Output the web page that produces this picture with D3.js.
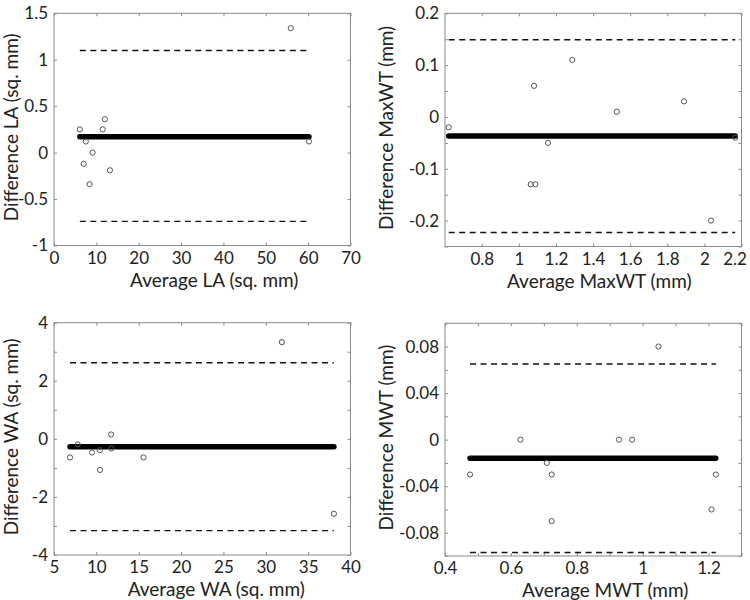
<!DOCTYPE html>
<html><head><meta charset="utf-8">
<script src="https://cdn.jsdelivr.net/npm/d3@7"></script>
<style>body{margin:0;background:#fff}</style>
</head><body><svg id="c" width="750" height="600"></svg>
<script>
// ---- Data ----
const laAvg   = [6.1, 7.5, 9.1, 7.0, 8.4, 11.5, 12.0, 13.2, 55.9, 60.2];
const laDiff  = [0.25, 0.12, 0.0, -0.12, -0.34, 0.25, 0.36, -0.19, 1.34, 0.12];
const laBias  = 0.17;
const laLoA   = [-0.74, 1.10];

const maxwtAvg  = [0.622, 1.082, 1.288, 1.528, 1.89, 1.157, 1.064, 1.089, 2.036, 2.166];
const maxwtDiff = [-0.02, 0.06, 0.11, 0.01, 0.03, -0.05, -0.13, -0.13, -0.20, -0.04];
const maxwtBias = -0.037;
const maxwtLoA  = [-0.223, 0.149];

const waAvg   = [6.89, 7.8, 9.49, 10.4, 10.43, 11.74, 11.78, 15.57, 31.9, 38.04];
const waDiff  = [-0.64, -0.19, -0.47, -0.39, -1.07, 0.15, -0.33, -0.64, 3.33, -2.58];
const waBias  = -0.27;
const waLoA   = [-3.16, 2.62];

const mwtAvg  = [0.476, 0.629, 0.709, 0.724, 0.724, 0.928, 0.968, 1.048, 1.209, 1.222];
const mwtDiff = [-0.03, 0.0, -0.02, -0.03, -0.07, 0.0, 0.0, 0.08, -0.06, -0.03];
const mwtBias = -0.016;
const mwtLoA  = [-0.097, 0.065];

// axis ranges, ticks and tick labels
const laXDomain = [0, 70],      laYDomain = [-1, 1.5];
const laXTicks  = [0,10,20,30,40,50,60,70];
const laXLabels = [0,10,20,30,40,50,60,70];
const laYTicks  = [-1,-0.5,0,0.5,1,1.5];
const laYLabels = [-1,-0.5,0,0.5,1,1.5];

const maxwtXDomain = [0.602, 2.2], maxwtYDomain = [-0.25, 0.2];
const maxwtXTicks  = [0.8,1,1.2,1.4,1.6,1.8,2,2.2];
const maxwtXLabels = [0.8,1,1.2,1.4,1.6,1.8,2,2.2];
const maxwtYTicks  = [-0.25,-0.2,-0.15,-0.1,-0.05,0,0.05,0.1,0.15,0.2];
const maxwtYLabels = [-0.2,-0.1,0,0.1,0.2];

const waXDomain = [5, 40], waYDomain = [-4, 4];
const waXTicks  = [5,10,15,20,25,30,35,40];
const waXLabels = [5,10,15,20,25,30,35,40];
const waYTicks  = [-4,-3,-2,-1,0,1,2,3,4];
const waYLabels = [-4,-2,0,2,4];

const mwtXDomain = [0.4, 1.3], mwtYDomain = [-0.1, 0.1];
const mwtXTicks  = [0.4,0.5,0.6,0.7,0.8,0.9,1,1.1,1.2,1.3];
const mwtXLabels = [0.4,0.6,0.8,1,1.2];
const mwtYTicks  = [-0.1,-0.08,-0.06,-0.04,-0.02,0,0.02,0.04,0.06,0.08,0.1];
const mwtYLabels = [-0.08,-0.04,0,0.04,0.08];

const xTitles = ["Average LA (sq. mm)", "Average MaxWT (mm)", "Average WA (sq. mm)", "Average MWT (mm)"];
const yTitles = ["Difference LA (sq. mm)", "Difference MaxWT (mm)", "Difference WA (sq. mm)", "Difference MWT (mm)"];

// ---- Layout ----
const boxes = [
  {x0:54,  y0:13.3,  x1:350.5, y1:245.5, tOff:12, yt:18},
  {x0:445, y0:13.3,  x1:741.5, y1:246.5, tOff:6,  yt:393},
  {x0:54,  y0:322.7, x1:350.5, y1:555,   tOff:14, yt:18},
  {x0:445, y0:323.3, x1:741.5, y1:556,   tOff:12, yt:393}
];

const panels = [
  {avg:laAvg, diff:laDiff, bias:laBias, loa:laLoA, xd:laXDomain, yd:laYDomain, xt:laXTicks, xl:laXLabels, yt:laYTicks, yl:laYLabels},
  {avg:maxwtAvg, diff:maxwtDiff, bias:maxwtBias, loa:maxwtLoA, xd:maxwtXDomain, yd:maxwtYDomain, xt:maxwtXTicks, xl:maxwtXLabels, yt:maxwtYTicks, yl:maxwtYLabels},
  {avg:waAvg, diff:waDiff, bias:waBias, loa:waLoA, xd:waXDomain, yd:waYDomain, xt:waXTicks, xl:waXLabels, yt:waYTicks, yl:waYLabels},
  {avg:mwtAvg, diff:mwtDiff, bias:mwtBias, loa:mwtLoA, xd:mwtXDomain, yd:mwtYDomain, xt:mwtXTicks, xl:mwtXLabels, yt:mwtYTicks, yl:mwtYLabels}
];

const FONT = "Lato, 'Open Sans', sans-serif";
const TXT = "#222", FRAME = "#8c8c8c";
const fmt = v => String(+v.toFixed(4));
const has = (arr, v) => arr.some(a => Math.abs(a - v) < 1e-9);

const svg = d3.select("#c");

panels.forEach((p, i) => {
  const b = boxes[i];
  const x = d3.scaleLinear().domain(p.xd).range([b.x0, b.x1]);
  const y = d3.scaleLinear().domain(p.yd).range([b.y1, b.y0]);
  const g = svg.append("g");

  // frame
  g.append("rect").attr("x", b.x0).attr("y", b.y0)
    .attr("width", b.x1 - b.x0).attr("height", b.y1 - b.y0)
    .attr("fill", "none").attr("stroke", FRAME).attr("stroke-width", 1);

  const style = sel => {
    sel.select(".domain").remove();
    sel.selectAll(".tick line").attr("stroke", FRAME);
    sel.selectAll("text").attr("fill", TXT);
    sel.attr("font-family", FONT).attr("font-size", 17);
  };

  const bx = g.append("g").attr("transform", `translate(0,${b.y1})`)
    .call(d3.axisBottom(x).tickValues(p.xt).tickSize(-3).tickPadding(6)
      .tickFormat(v => has(p.xl, v) ? fmt(v) : ""))
    .call(style);
  // keep the right-most label inside the picture
  if (b.x1 > 700) {
    bx.selectAll(".tick text").filter(v => Math.abs(x(v) - b.x1) < 1).attr("dx", -7);
  }
  g.append("g").attr("transform", `translate(0,${b.y0})`)
    .call(d3.axisTop(x).tickValues(p.xt).tickSize(-3).tickFormat(""))
    .call(style);
  g.append("g").attr("transform", `translate(${b.x0},0)`)
    .call(d3.axisLeft(y).tickValues(p.yt).tickSize(-3).tickPadding(6)
      .tickFormat(v => has(p.yl, v) ? fmt(v) : ""))
    .call(style);
  g.append("g").attr("transform", `translate(${b.x1},0)`)
    .call(d3.axisRight(y).tickValues(p.yt).tickSize(-3).tickFormat(""))
    .call(style);

  const [xmin, xmax] = d3.extent(p.avg);

  // limits of agreement (dashed)
  g.selectAll("line.loa").data(p.loa).join("line").attr("class", "loa")
    .attr("x1", x(xmin)).attr("x2", x(xmax))
    .attr("y1", d => y(d)).attr("y2", d => y(d))
    .attr("stroke", "#111").attr("stroke-width", 1.4).attr("stroke-dasharray", "6,4.5");

  // bias (thick)
  g.append("line")
    .attr("x1", x(xmin)).attr("x2", x(xmax))
    .attr("y1", y(p.bias)).attr("y2", y(p.bias))
    .attr("stroke", "#000").attr("stroke-width", 5.5).attr("stroke-linecap", "round");

  // points
  g.selectAll("circle").data(p.avg.map((a, k) => [a, p.diff[k]])).join("circle")
    .attr("cx", d => x(d[0])).attr("cy", d => y(d[1])).attr("r", 2.6)
    .attr("fill", "none").attr("stroke", "#555").attr("stroke-width", 1);

  // titles
  g.append("text").attr("x", (b.x0 + b.x1) / 2 + b.tOff).attr("y", b.y1 + 41)
    .attr("text-anchor", "middle").attr("font-family", FONT).attr("font-size", 19)
    .attr("fill", TXT).text(xTitles[i]);
  g.append("text")
    .attr("transform", `translate(${b.yt},${(b.y0 + b.y1) / 2 - 2}) rotate(-90)`)
    .attr("text-anchor", "middle").attr("font-family", FONT).attr("font-size", 19)
    .attr("fill", TXT).text(yTitles[i]);
});
</script>
</body></html>
